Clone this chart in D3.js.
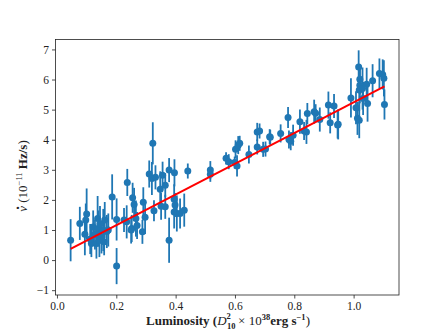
<!DOCTYPE html>
<html>
<head>
<meta charset="utf-8">
<script src="https://cdn.jsdelivr.net/npm/d3@7"></script>
<style>
  body { margin: 0; background: #fff; }
  svg { display: block; }
  text { font-family: "Liberation Serif", "DejaVu Serif", serif; fill: #222; }
</style>
</head>
<body>
<svg id="chart" width="443" height="332"></svg>
<script>
// luminosity (D10^2 x 1e38 erg/s), spin-up (1e-11 Hz/s), 1-sigma error
const lum = [
  0.046, 0.077, 0.097, 0.100, 0.094, 0.116, 0.122, 0.133, 0.137, 0.139,
  0.150, 0.156, 0.161, 0.159, 0.173, 0.186, 0.201, 0.201, 0.226, 0.237,
  0.235, 0.255, 0.260, 0.252, 0.266, 0.288, 0.291, 0.297, 0.311, 0.320,
  0.332, 0.327, 0.348, 0.356, 0.365, 0.351, 0.365, 0.378, 0.378, 0.396,
  0.395, 0.395, 0.404, 0.415, 0.429, 0.441, 0.517, 0.517, 0.323, 0.250,
  0.128, 0.145, 0.168, 0.112, 0.143, 0.270, 0.398, 0.570, 0.579, 0.599,
  0.607, 0.602, 0.611, 0.616, 0.647, 0.675, 0.683, 0.675, 0.695, 0.717,
  0.719, 0.754, 0.779, 0.782, 0.788, 0.796, 0.819, 0.833, 0.841, 0.844,
  0.867, 0.886, 0.915, 0.934, 0.921, 0.946, 0.948, 0.991, 1.008, 1.017,
  1.021, 1.021, 1.019, 1.013, 1.019, 1.030, 1.032, 1.047, 1.044, 1.064,
  1.087, 1.098, 1.102, 1.104, 0.703, 0.872
];
const spinUp = [
  0.66, 1.22, 1.33, 1.53, 0.86, 0.55, 1.10, 0.55, 1.38, 1.05,
  0.77, 1.00, 1.33, 0.61, 1.00, 2.10, -0.20, 1.35, 1.33, 2.58,
  1.27, 2.07, 1.85, 1.05, 1.38, 0.94, 1.92, 1.42, 2.86, 2.71,
  2.75, 1.64, 2.35, 2.82, 2.49, 1.79, 1.77, 0.66, 2.99, 2.90,
  2.02, 1.60, 1.55, 1.55, 1.66, 2.96, 2.99, 2.85, 3.88, 1.00,
  0.85, 1.20, 0.95, 0.70, 0.65, 1.15, 1.83, 3.38, 3.27, 3.24,
  3.13, 3.68, 3.82, 3.88, 3.51, 4.26, 4.29, 3.76, 3.68, 4.10,
  4.08, 4.21, 4.74, 4.01, 3.95, 4.15, 4.60, 4.29, 4.26, 4.87,
  4.93, 4.67, 5.15, 5.12, 4.56, 4.49, 4.51, 5.39, 5.06, 6.42,
  6.01, 5.81, 5.65, 4.71, 4.65, 5.70, 5.37, 5.20, 5.84, 5.96,
  6.20, 6.17, 6.04, 5.17, 3.69, 4.88
];
const spinErr = [
  0.70, 0.55, 0.55, 0.85, 0.70, 0.45, 0.55, 0.50, 0.75, 0.60,
  0.55, 0.70, 0.60, 0.45, 0.55, 0.75, 0.60, 0.70, 0.40, 0.45,
  0.55, 0.50, 0.55, 0.45, 0.60, 0.40, 0.50, 0.55, 0.45, 0.55,
  0.40, 0.35, 0.60, 0.45, 0.40, 0.45, 0.40, 0.75, 0.40, 0.45,
  0.50, 0.55, 0.60, 0.50, 0.55, 0.25, 0.30, 0.25, 0.70, 0.45,
  0.50, 0.60, 0.55, 0.50, 0.55, 0.45, 0.40, 0.20, 0.25, 0.20,
  0.35, 0.30, 0.30, 0.25, 0.30, 0.30, 0.25, 0.25, 0.25, 0.25,
  0.25, 0.30, 0.35, 0.30, 0.30, 0.35, 0.40, 0.30, 0.40, 0.35,
  0.40, 0.40, 0.45, 0.40, 0.35, 0.45, 0.50, 0.65, 0.55, 0.55,
  0.50, 0.60, 0.70, 0.55, 0.60, 0.70, 0.55, 0.60, 0.55, 0.55,
  0.50, 0.50, 0.60, 0.50, 0.25, 0.30
];

// linear fit drawn in red
const fitSlope = 5.1;
const fitIntercept = 0.14;

const xTicks = [0.0, 0.2, 0.4, 0.6, 0.8, 1.0];
const yTicks = [-1, 0, 1, 2, 3, 4, 5, 6, 7];

const margin = { left: 55.5, right: 44, top: 39.5, bottom: 37 };
const width = 443, height = 332;
const svg = d3.select('#chart');

const x = d3.scaleLinear()
  .domain([-0.005, 1.153])
  .range([margin.left, width - margin.right]);
const y = d3.scaleLinear()
  .domain([-1.16, 7.33])
  .range([height - margin.bottom, margin.top]);

const data = lum.map((l, i) => ({ l, v: spinUp[i], e: spinErr[i] }));

const BLUE = '#1f77b4';

svg.append('g')
  .selectAll('line')
  .data(data)
  .join('line')
  .attr('x1', (d) => x(d.l))
  .attr('x2', (d) => x(d.l))
  .attr('y1', (d) => y(d.v - d.e))
  .attr('y2', (d) => y(d.v + d.e))
  .attr('stroke', BLUE)
  .attr('stroke-width', 1.8);

svg.append('g')
  .selectAll('circle')
  .data(data)
  .join('circle')
  .attr('cx', (d) => x(d.l))
  .attr('cy', (d) => y(d.v))
  .attr('r', 3.5)
  .attr('fill', BLUE);

const [lo, hi] = d3.extent(lum);
svg.append('line')
  .attr('x1', x(lo))
  .attr('y1', y(fitIntercept + fitSlope * lo))
  .attr('x2', x(hi))
  .attr('y2', y(fitIntercept + fitSlope * hi))
  .attr('stroke', 'red')
  .attr('stroke-width', 2);

// axes
const xAxis = svg.append('g')
  .attr('transform', `translate(0,${height - margin.bottom})`)
  .call(d3.axisBottom(x).tickValues(xTicks).tickFormat(d3.format('.1f')).tickSize(3.5).tickPadding(3));
const yAxis = svg.append('g')
  .attr('transform', `translate(${margin.left},0)`)
  .call(d3.axisLeft(y).tickValues(yTicks).tickFormat((d) => (d < 0 ? '\u2212' + -d : d)).tickSize(3.5).tickPadding(3));

[xAxis, yAxis].forEach((g) => {
  g.select('.domain').remove();
  g.selectAll('line').attr('stroke', '#222').attr('stroke-width', 0.8);
  g.selectAll('text').attr('font-size', 11.5).attr('fill', '#222')
    .style('font-family', '"Liberation Serif", serif');
});

svg.append('rect')
  .attr('x', margin.left)
  .attr('y', margin.top)
  .attr('width', width - margin.left - margin.right)
  .attr('height', height - margin.top - margin.bottom)
  .attr('fill', 'none')
  .attr('stroke', '#222')
  .attr('stroke-width', 0.8);

// x label
const xl = svg.append('text')
  .attr('x', 228)
  .attr('y', 325)
  .attr('text-anchor', 'middle')
  .attr('font-size', 13)
  .attr('font-weight', 'bold');
xl.append('tspan').text('Luminosity (');
xl.append('tspan').attr('font-style', 'italic').attr('font-weight', 'normal').text('D');
xl.append('tspan').attr('font-size', 8.5).attr('dy', 3.5).attr('dx', 0.5).text('10');
xl.append('tspan').attr('font-size', 8.5).attr('dy', -10).attr('dx', -9).text('2');
xl.append('tspan').attr('dy', 6.5).attr('dx', 4).attr('font-weight', 'normal').text(' \u00d7 10');
xl.append('tspan').attr('font-size', 8.5).attr('dy', -5).text('38');
xl.append('tspan').attr('dy', 5).text('erg s');
xl.append('tspan').attr('font-size', 8.5).attr('dy', -5).text('\u22121');
xl.append('tspan').attr('dy', 5).attr('font-weight', 'normal').text(')');

// y label
const ylg = svg.append('g').attr('transform', 'translate(27,176) rotate(-90)');
const yl = ylg.append('text')
  .attr('text-anchor', 'middle')
  .attr('font-size', 13)
  .attr('font-weight', 'bold');
const nu = yl.append('tspan').attr('font-style', 'italic').attr('font-weight', 'normal').text('\u03bd');
yl.append('tspan').attr('font-weight', 'normal').text(' (10');
yl.append('tspan').attr('font-size', 8.5).attr('dy', -5).attr('font-weight', 'normal').text('\u221211');
yl.append('tspan').attr('dy', 5).text(' Hz/s');
yl.append('tspan').attr('font-weight', 'normal').text(')');
// dot over nu
const total = yl.node().getComputedTextLength();
const nuW = nu.node().getComputedTextLength();
ylg.append('text')
  .attr('x', -total / 2 + nuW / 2 + 1)
  .attr('y', -4.5)
  .attr('text-anchor', 'middle')
  .attr('font-size', 14)
  .attr('font-weight', 'bold')
  .text('\u00b7');
</script>
</body>
</html>
